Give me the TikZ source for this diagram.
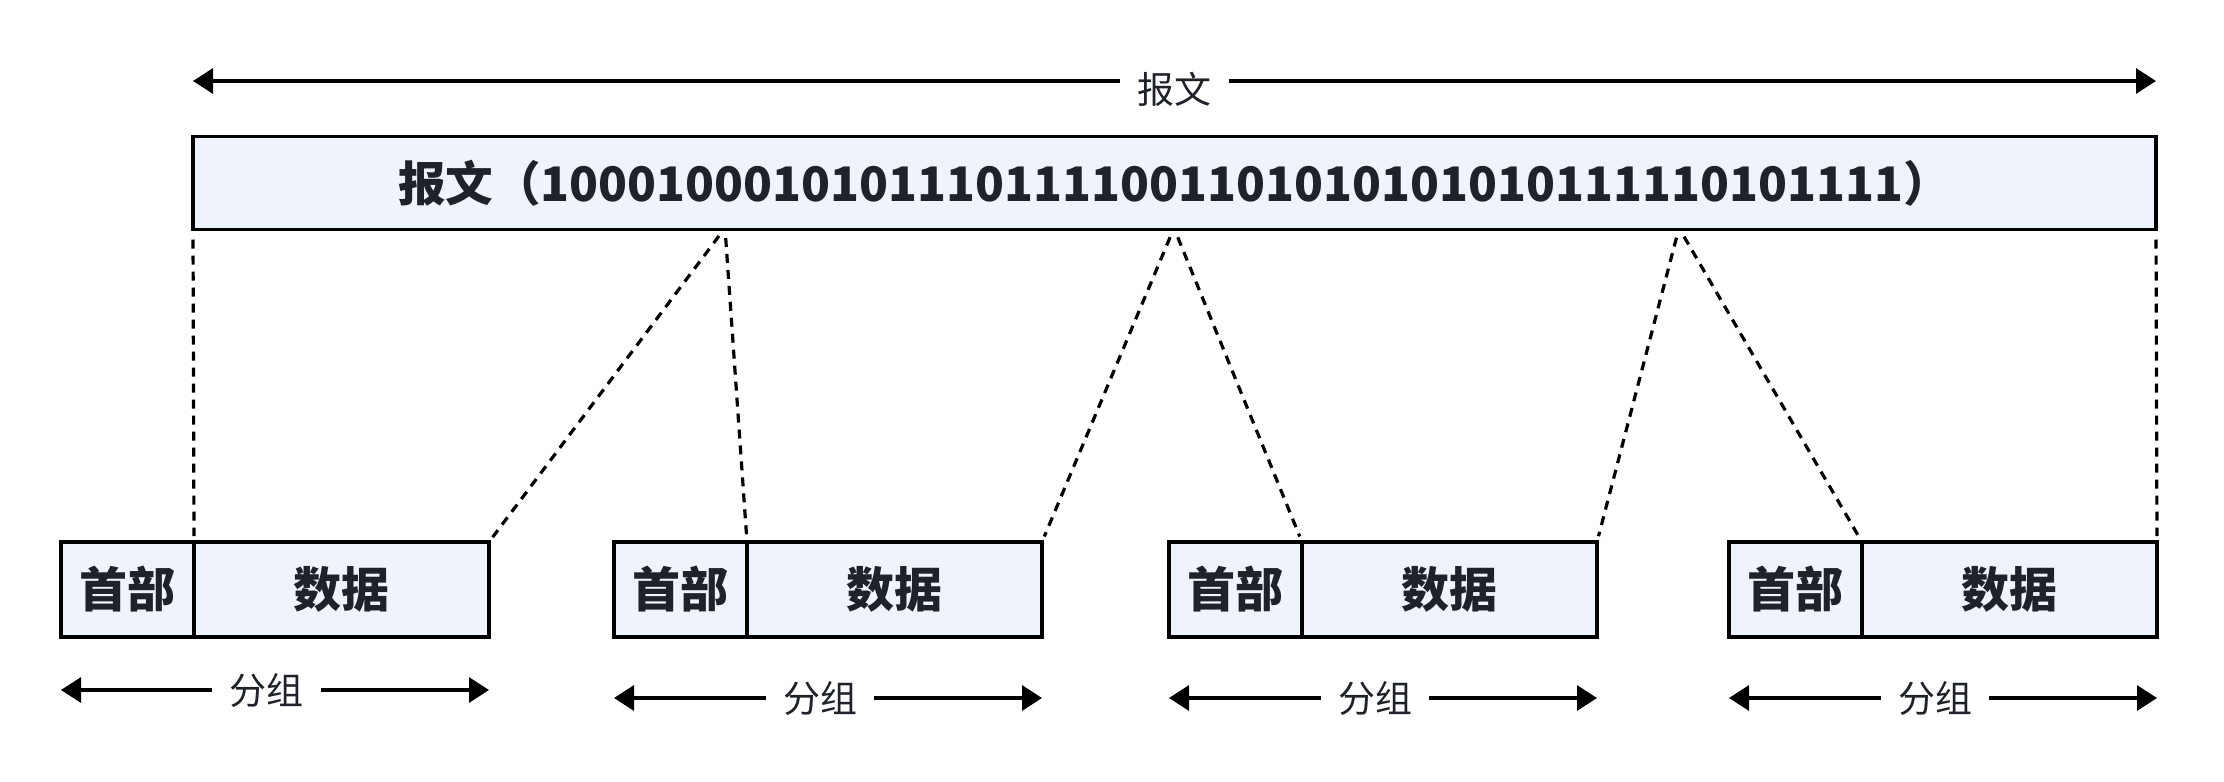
\documentclass[tikz,border=0pt]{standalone}
\usepackage{fontspec}
\setmainfont{Noto Sans CJK SC}
\usetikzlibrary{positioning,arrows.meta}
\definecolor{boxfill}{RGB}{238,243,252}
\definecolor{textdark}{RGB}{31,35,41}
\begin{document}
\begin{tikzpicture}[x=0.5pt,y=-0.5pt,
  every node/.style={text=textdark},
  msgbox/.style={draw,line width=1.9pt,fill=boxfill,outer sep=0pt,minimum width=981.5pt,minimum height=46.5pt,inner sep=0pt,font=\bfseries\fontsize{23.8}{28}\selectfont},
  headbox/.style={draw,line width=1.7pt,fill=boxfill,outer sep=0pt,minimum width=66.5pt,minimum height=47.5pt,inner sep=0pt,font=\bfseries\fontsize{24}{28}\selectfont},
  databox/.style={headbox,minimum width=147.5pt},
  span/.style={font=\fontsize{18.5}{22}\selectfont,inner xsep=8.5pt},
  measure/.style={line width=1.6pt,-{Triangle[length=10pt,width=12.5pt]}},
  split/.style={line width=1.6pt,dash pattern=on 4.5pt off 3.5pt,shorten <=5pt,shorten >=3pt}]

  \useasboundingbox (0,0) rectangle (2224,782);

  \node[span] (msglabel) at (1174.5,89) {报文};
  \coordinate (msgleft) at (193,81);
  \coordinate (msgright) at (2156,81);
  \draw[measure] (msglabel.west |- msgleft) -- (msgleft);
  \draw[measure] (msglabel.east |- msgright) -- (msgright);

  \node[msgbox] (msg) at (1174.5,183) {报文（10001000101011101111001101010101010111110101111）};

  \foreach \i/\x/\c/\y in {1/127.5/266.5/690,2/680.5/820/698,3/1235.5/1375/698,4/1795.5/1935/698}{
    \node[headbox] (head\i) at (\x,589.5) {首部};
    \node[databox,right=0pt of head\i] (data\i) {数据};
    \node[span] (group\i) at (\c,\y) {分组};
    \draw[measure] (group\i.west) -- (head\i.west |- group\i);
    \draw[measure] (group\i.east) -- (data\i.east |- group\i);
  }

  \coordinate (cut1) at (725,228);
  \coordinate (cut2) at (1174,228);
  \coordinate (cut3) at (1679,228);

  \draw[split] (msg.south west) -- (data1.north west);
  \draw[split] (cut1) -- (data1.north east);
  \draw[split] (cut1) -- (data2.north west);
  \draw[split] (cut2) -- (data2.north east);
  \draw[split] (cut2) -- (data3.north west);
  \draw[split] (cut3) -- (data3.north east);
  \draw[split] (cut3) -- (data4.north west);
  \draw[split] (msg.south east) -- (data4.north east);

\end{tikzpicture}
\end{document}
